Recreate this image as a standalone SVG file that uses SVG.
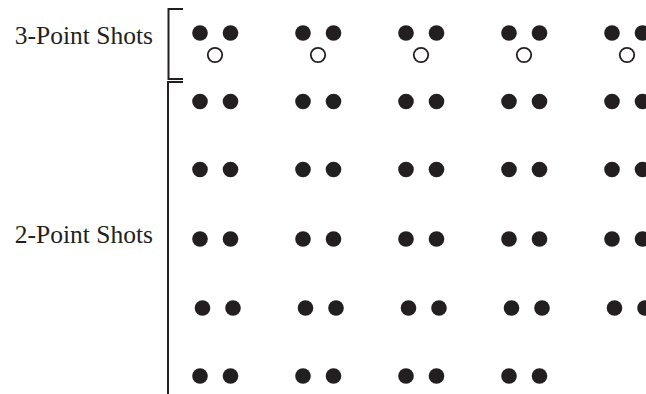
<svg xmlns="http://www.w3.org/2000/svg" width="646" height="394" viewBox="0 0 646 394">
<style>
.lbl{font-family:"Liberation Serif","Times New Roman",serif;font-size:25.5px;fill:#231f20;text-anchor:end}
.br{fill:none;stroke:#231f20;stroke-width:2}
.d{fill:#231f20}
.o{fill:#fff;stroke:#231f20;stroke-width:1.8}
</style>
<defs>
<g id="pair"><circle class="d" cx="0" cy="0" r="7.8"/><circle class="d" cx="30.5" cy="0" r="7.8"/></g>
<g id="three"><circle class="d" cx="0" cy="0" r="7.8"/><circle class="d" cx="30.5" cy="0" r="7.8"/><circle class="o" cx="15" cy="22" r="7.2"/></g>
</defs>
<rect width="646" height="394" fill="#fff"/>
<g id="label-3pt"><text class="lbl" x="153" y="44">3-Point Shots</text></g>
<g id="label-2pt"><text class="lbl" x="153" y="243">2-Point Shots</text></g>
<g id="brackets">
<path class="br" d="M183,9 H168.5 V79 H183"/>
<path class="br" d="M183,82 H168 V394"/>
</g>
<g id="three-point">
<use href="#three" x="200" y="33"/>
<use href="#three" x="303" y="33"/>
<use href="#three" x="406" y="33"/>
<use href="#three" x="509" y="33"/>
<use href="#three" x="612" y="33"/>
</g>
<g id="two-point-row1">
<use href="#pair" x="200" y="101.5"/><use href="#pair" x="303" y="101.5"/><use href="#pair" x="406" y="101.5"/><use href="#pair" x="509" y="101.5"/><use href="#pair" x="612" y="101.5"/>
</g>
<g id="two-point-row2">
<use href="#pair" x="200" y="169.5"/><use href="#pair" x="303" y="169.5"/><use href="#pair" x="406" y="169.5"/><use href="#pair" x="509" y="169.5"/><use href="#pair" x="612" y="169.5"/>
</g>
<g id="two-point-row3">
<use href="#pair" x="200" y="239"/><use href="#pair" x="303" y="239"/><use href="#pair" x="406" y="239"/><use href="#pair" x="509" y="239"/><use href="#pair" x="612" y="239"/>
</g>
<g id="two-point-row4">
<use href="#pair" x="202.5" y="308"/><use href="#pair" x="305.5" y="308"/><use href="#pair" x="408.5" y="308"/><use href="#pair" x="511.5" y="308"/><use href="#pair" x="614.5" y="308"/>
</g>
<g id="two-point-row5">
<use href="#pair" x="200" y="376"/><use href="#pair" x="303" y="376"/><use href="#pair" x="406" y="376"/><use href="#pair" x="509" y="376"/>
</g>
</svg>
